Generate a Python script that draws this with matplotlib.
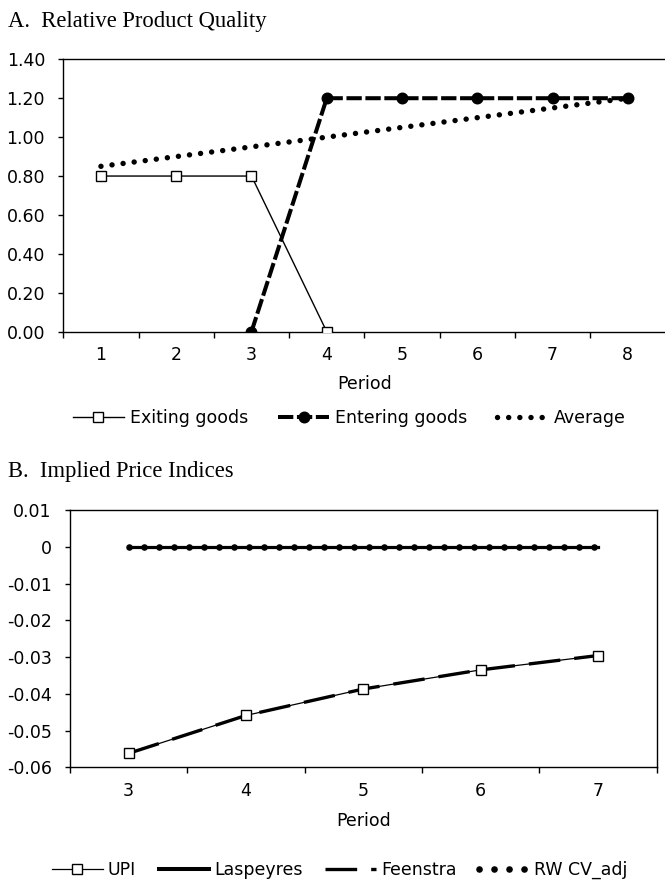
import numpy as np
from matplotlib import pyplot as plt
from matplotlib import rcParams
from matplotlib.ticker import FixedLocator, FuncFormatter

rcParams['font.family'] = 'DejaVu Sans'
rcParams['font.size'] = 12.5
rcParams['axes.unicode_minus'] = False
rcParams['axes.linewidth'] = 1.0

# Panel A data: relative product quality
periods_a = [1, 2, 3, 4, 5, 6, 7, 8]
exiting = [0.80, 0.80, 0.80, 0.00, np.nan, np.nan, np.nan, np.nan]
entering = [np.nan, np.nan, 0.00, 1.20, 1.20, 1.20, 1.20, 1.20]
average = [0.85, 0.90, 0.95, 1.00, 1.05, 1.10, 1.15, 1.20]
yticks_a = [0.0, 0.2, 0.4, 0.6, 0.8, 1.0, 1.2, 1.4]

# Panel B data: implied price indices
periods_b = [3, 4, 5, 6, 7]
upi = [-0.0562, -0.0459, -0.0387, -0.0335, -0.0296]
laspeyres = [0.0, 0.0, 0.0, 0.0, 0.0]
feenstra = [-0.0562, -0.0459, -0.0387, -0.0335, -0.0296]
rw_cv_adj = [0.0, 0.0, 0.0, 0.0, 0.0]
yticks_b = [-0.06, -0.05, -0.04, -0.03, -0.02, -0.01, 0.0, 0.01]

W, H = 665, 881
fig = plt.figure(figsize=(W / 100, H / 100), dpi=100)


def px_axes(left, top, right, bottom):
    # axes rectangle given in pixel coords (origin top-left)
    return fig.add_axes([left / W, 1 - bottom / H, (right - left) / W, (bottom - top) / H])


def excel_style(ax, xs, lpad):
    ax.set_xlim(xs[0] - 0.5, xs[-1] + 0.5)
    ax.xaxis.set_major_locator(FixedLocator(xs))
    ax.xaxis.set_minor_locator(FixedLocator(np.arange(xs[0] - 0.5, xs[-1] + 1, 1.0)))
    ax.tick_params(axis='x', which='major', length=0, pad=10.5)
    ax.tick_params(axis='x', which='minor', length=4.3, width=1.0, direction='out')
    ax.tick_params(axis='y', which='major', length=3.6, width=1.0, direction='out', pad=9.5)
    ax.set_xlabel('Period', labelpad=lpad)


# ---------- A ----------
axA = px_axes(63.3, 59.3, 665.5, 331.7)
lA1, = axA.plot(periods_a, exiting, color='black', lw=1.0, marker='s', ms=7.5,
                mfc='white', mec='black', mew=1.0, zorder=3)
lA2, = axA.plot(periods_a, entering, color='black', lw=2.9, ls=(0, (3.8, 0.9)),
                marker='o', ms=7.6, mfc='black', mec='black', zorder=4)
lA3, = axA.plot(periods_a, average, color='black', lw=3.9, ls=(0, (0.01, 2.05)),
                dash_capstyle='round', zorder=5)
axA.set_ylim(0, 1.4)
axA.set_yticks(yticks_a)
axA.yaxis.set_major_formatter(FuncFormatter(lambda v, p: f'{v:.2f}'))
excel_style(axA, periods_a, 7.5)

fig.text(8 / W, 1 - 26.7 / H, 'A.  Relative Product Quality', family='Liberation Serif',
         fontsize=16.3, va='baseline', ha='left')
fig.legend([lA1, lA2, lA3], ['Exiting goods', 'Entering goods', 'Average'],
           loc='center', bbox_to_anchor=(349.5 / W, 1 - 418 / H), ncol=3, frameon=False,
           handlelength=2.9, handletextpad=0.35, columnspacing=1.75, numpoints=1)

# ---------- B ----------
axB = px_axes(70, 510, 656.5, 767.3)
lB1, = axB.plot(periods_b, upi, color='black', lw=0.9, zorder=2)
lB2, = axB.plot(periods_b, laspeyres, color='black', lw=2.3, zorder=3)
lB3, = axB.plot(periods_b, feenstra, color='black', lw=2.4, ls=(0, (9.5, 4.2)), zorder=3)
lB4, = axB.plot(periods_b, rw_cv_adj, color='black', lw=4.8, ls=(0, (0.01, 2.24)),
                dash_capstyle='round', zorder=4)
axB.plot(periods_b, upi, ls='none', marker='s', ms=7.5, mfc='white', mec='black', mew=1.0, zorder=5)
axB.set_ylim(-0.06, 0.01)
axB.set_yticks(yticks_b)
axB.yaxis.set_major_formatter(FuncFormatter(lambda v, p: '0' if abs(v) < 1e-9 else f'{v:.2f}'))
excel_style(axB, periods_b, 8.5)

fig.text(8 / W, 1 - 477.3 / H, 'B.  Implied Price Indices', family='Liberation Serif',
         fontsize=16.3, va='baseline', ha='left')
upi_handle, = axB.plot([], [], color='black', lw=0.9, marker='s', ms=7.5, mfc='white',
                       mec='black', mew=1.0)
las_handle, = axB.plot([], [], color='black', lw=2.9)
fig.legend([upi_handle, las_handle, lB3, lB4], ['UPI', 'Laspeyres', 'Feenstra', 'RW CV_adj'],
           loc='center', bbox_to_anchor=(340 / W, 1 - 870 / H), ncol=4, frameon=False,
           handlelength=2.9, handletextpad=0.3, columnspacing=1.3, numpoints=1)

plt.savefig('out.png', dpi=100)
